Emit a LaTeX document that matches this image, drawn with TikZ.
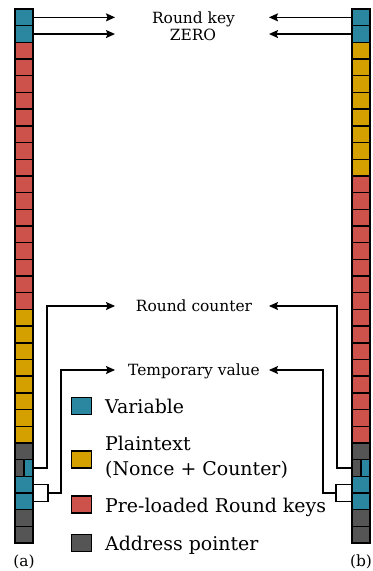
\documentclass[tikz,border=0pt]{standalone}
\usepackage{fontspec}
\setmainfont{DejaVu Serif}
\usetikzlibrary{arrows.meta,calc}
\definecolor{colVar}{RGB}{43,134,160}
\definecolor{colPt}{RGB}{212,160,0}
\definecolor{colRk}{RGB}{206,82,76}
\definecolor{colAp}{RGB}{85,85,85}
\begin{document}
\begin{tikzpicture}[x=1bp,y=-1bp,
  cell/.style={draw=black, line width=1.4bp, minimum width=18bp, minimum height=16.69bp, inner sep=0pt, outer sep=0pt},
  splitcell/.style={cell, fill=colAp, path picture={
      \fill[colVar] (path picture bounding box.north) rectangle (path picture bounding box.south east);
      \draw[line width=1.4bp] (path picture bounding box.north) -- (path picture bounding box.south);}},
  legbox/.style={draw=black, line width=1.4bp, minimum width=20bp, minimum height=17bp, inner sep=0pt},
  conn/.style={line width=1.3bp},
  arr/.style={conn, -{Stealth[length=9bp,width=8bp,inset=1.5bp]}},
  small/.style={font=\fontsize{15.5}{18}\selectfont, anchor=base, inner sep=0pt},
  leg/.style={font=\fontsize{19}{24.3}\selectfont, anchor=base west, align=left, inner sep=0pt}]
\useasboundingbox (0,0) rectangle (372,571);
% left column
\foreach \i in {1,2} \node[cell, fill=colVar] (L\i) at (24,{9+(\i-0.5)*16.69}) {};
\foreach \i in {3,...,18} \node[cell, fill=colRk] (L\i) at (24,{9+(\i-0.5)*16.69}) {};
\foreach \i in {19,...,26} \node[cell, fill=colPt] (L\i) at (24,{9+(\i-0.5)*16.69}) {};
\foreach \i in {27,31,32} \node[cell, fill=colAp] (L\i) at (24,{9+(\i-0.5)*16.69}) {};
\node[splitcell] (L28) at (24,{9+27.5*16.69}) {};
\foreach \i in {29,30} \node[cell, fill=colVar] (L\i) at (24,{9+(\i-0.5)*16.69}) {};
% right column
\foreach \i in {1,2} \node[cell, fill=colVar] (R\i) at (361,{9+(\i-0.5)*16.69}) {};
\foreach \i in {3,...,10} \node[cell, fill=colPt] (R\i) at (361,{9+(\i-0.5)*16.69}) {};
\foreach \i in {11,...,26} \node[cell, fill=colRk] (R\i) at (361,{9+(\i-0.5)*16.69}) {};
\foreach \i in {27,31,32} \node[cell, fill=colAp] (R\i) at (361,{9+(\i-0.5)*16.69}) {};
\node[splitcell] (R28) at (361,{9+27.5*16.69}) {};
\foreach \i in {29,30} \node[cell, fill=colVar] (R\i) at (361,{9+(\i-0.5)*16.69}) {};
% labels
\node[small] (rk) at (193.5,24) {Round key};
\node[small] (zero) at (193,40.7) {ZERO};
\node[small] (rc) at (194,311) {Round counter};
\node[small] (tv) at (194,375.7) {Temporary value};
\node[small] (la) at (24,566) {(a)};
\node[small] (lb) at (361,566) {(b)};
% arrow end points
\coordinate (xl) at (115,0);
\coordinate (xr) at (269,0);
\coordinate (rcl) at (115,306);
\coordinate (rcr) at (269,306);
\coordinate (tvl) at (115,370);
\coordinate (tvr) at (269,370);
% round key / zero
\draw[arr] (L1.east) -- (L1.east -| xl);
\draw[arr] (L2.east) -- (L2.east -| xl);
\draw[arr] (R1.west) -- (R1.west -| xr);
\draw[arr] (R2.west) -- (R2.west -| xr);
% round counter
\draw[arr] (L28.east) -- ++(14,0) |- (rcl);
\draw[arr] (R28.west) -- ++(-15,0) |- (rcr);
% temporary value
\draw[conn] (L29.east) -- ++(15,0) |- (L30.east);
\coordinate (bl) at ($(L29.east)!0.5!(L30.east)+(15,0)$);
\draw[arr] (bl) -- ++(13,0) |- (tvl);
\draw[conn] (R29.west) -- ++(-16,0) |- (R30.west);
\coordinate (br) at ($(R29.west)!0.5!(R30.west)+(-16,0)$);
\draw[arr] (br) -- ++(-13,0) |- (tvr);
% legend
\node[legbox, fill=colVar] (k1) at (81.7,405.7) {};
\node[legbox, fill=colPt] (k2) at (81.7,459.5) {};
\node[legbox, fill=colRk] (k3) at (81.7,504.4) {};
\node[legbox, fill=colAp] (k4) at (81.7,543) {};
\node[leg] (t1) at (105,413.3) {Variable};
\node[leg] (t2) at (105,475) {Plaintext\\(Nonce + Counter)};
\node[leg] (t3) at (105,512.7) {Pre-loaded Round keys};
\node[leg] (t4) at (105,550) {Address pointer};
\end{tikzpicture}
\end{document}
